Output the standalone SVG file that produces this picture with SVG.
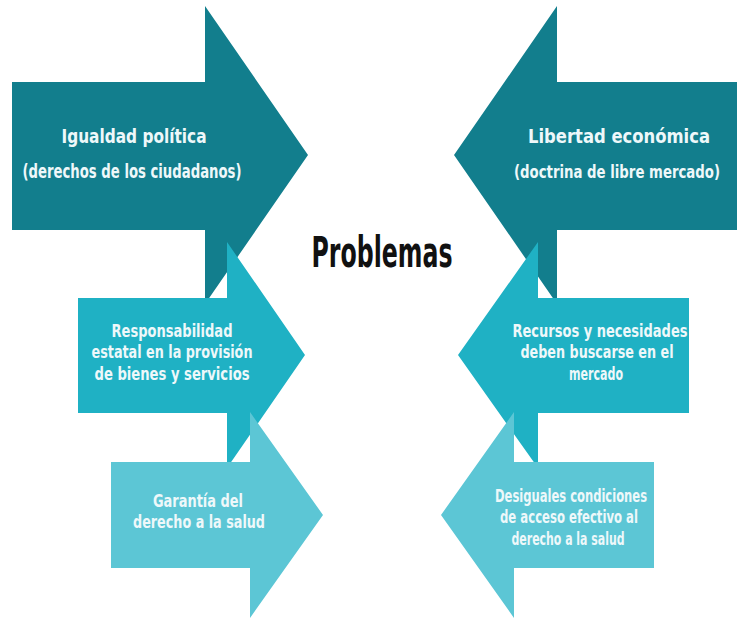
<svg xmlns="http://www.w3.org/2000/svg" width="737" height="620" viewBox="0 0 737 620">
<style>
.dark{fill:#127e8d}
.mid{fill:#1fb1c4}
.light{fill:#5cc6d5}
text{font-family:'Liberation Sans Narrow','DejaVu Sans Condensed','Roboto',sans-serif;font-weight:bold;text-anchor:middle;fill:#eef8fa}
.t1{font-size:19px}
.t2{font-size:17px}
.title{font-size:42px;fill:#111;font-weight:bold}
</style>
<rect width="737" height="620" fill="#ffffff"/>
<g id="igualdad">
<polygon class="dark" points="12,82 205,82 205,6 308,155 205,304 205,230 12,230"/>
<text class="t1" x="134" y="143" textLength="145" lengthAdjust="spacingAndGlyphs">Igualdad política</text>
<text class="t1" x="132" y="178" textLength="219" lengthAdjust="spacingAndGlyphs">(derechos de los ciudadanos)</text>
</g>
<g id="libertad">
<polygon class="dark" points="737,82 557,82 557,6 454,155 557,304 557,230 737,230"/>
<text class="t1" x="619" y="143" textLength="182" lengthAdjust="spacingAndGlyphs">Libertad económica</text>
<text class="t1" x="617" y="178" textLength="206" lengthAdjust="spacingAndGlyphs" style="font-size:18px">(doctrina de libre mercado)</text>
</g>
<g id="responsabilidad">
<polygon class="mid" points="78,298 227,298 227,242 305,355 227,468 227,413 78,413"/>
<text class="t2" x="172" y="337" textLength="121" lengthAdjust="spacingAndGlyphs">Responsabilidad</text>
<text class="t2" x="172" y="358" textLength="161" lengthAdjust="spacingAndGlyphs">estatal en la provisión</text>
<text class="t2" x="172" y="380" textLength="155" lengthAdjust="spacingAndGlyphs">de bienes y servicios</text>
</g>
<g id="recursos">
<polygon class="mid" points="689,298 538,298 538,242 458,355 538,468 538,413 689,413"/>
<text class="t2" x="600" y="337" textLength="175" lengthAdjust="spacingAndGlyphs">Recursos y necesidades</text>
<text class="t2" x="597" y="358" textLength="153" lengthAdjust="spacingAndGlyphs">deben buscarse en el</text>
<text class="t2" x="596" y="380" textLength="54" lengthAdjust="spacingAndGlyphs">mercado</text>
</g>
<g id="garantia">
<polygon class="light" points="111,462 250,462 250,412 323,515 250,618 250,568 111,568"/>
<text class="t2" x="198" y="507" textLength="90" lengthAdjust="spacingAndGlyphs">Garantía del</text>
<text class="t2" x="199" y="528" textLength="132" lengthAdjust="spacingAndGlyphs">derecho a la salud</text>
</g>
<g id="desiguales">
<polygon class="light" points="654,462 514,462 514,412 441,515 514,618 514,568 654,568"/>
<text class="t2" x="571" y="502" textLength="152" lengthAdjust="spacingAndGlyphs">Desiguales condiciones</text>
<text class="t2" x="569" y="523" textLength="138" lengthAdjust="spacingAndGlyphs">de acceso efectivo al</text>
<text class="t2" x="568" y="545" textLength="113" lengthAdjust="spacingAndGlyphs">derecho a la salud</text>
</g>
<g id="problemas">
<text class="title" x="382" y="267" textLength="141" lengthAdjust="spacingAndGlyphs">Problemas</text>
</g>
<g id="connectors"></g>
</svg>
